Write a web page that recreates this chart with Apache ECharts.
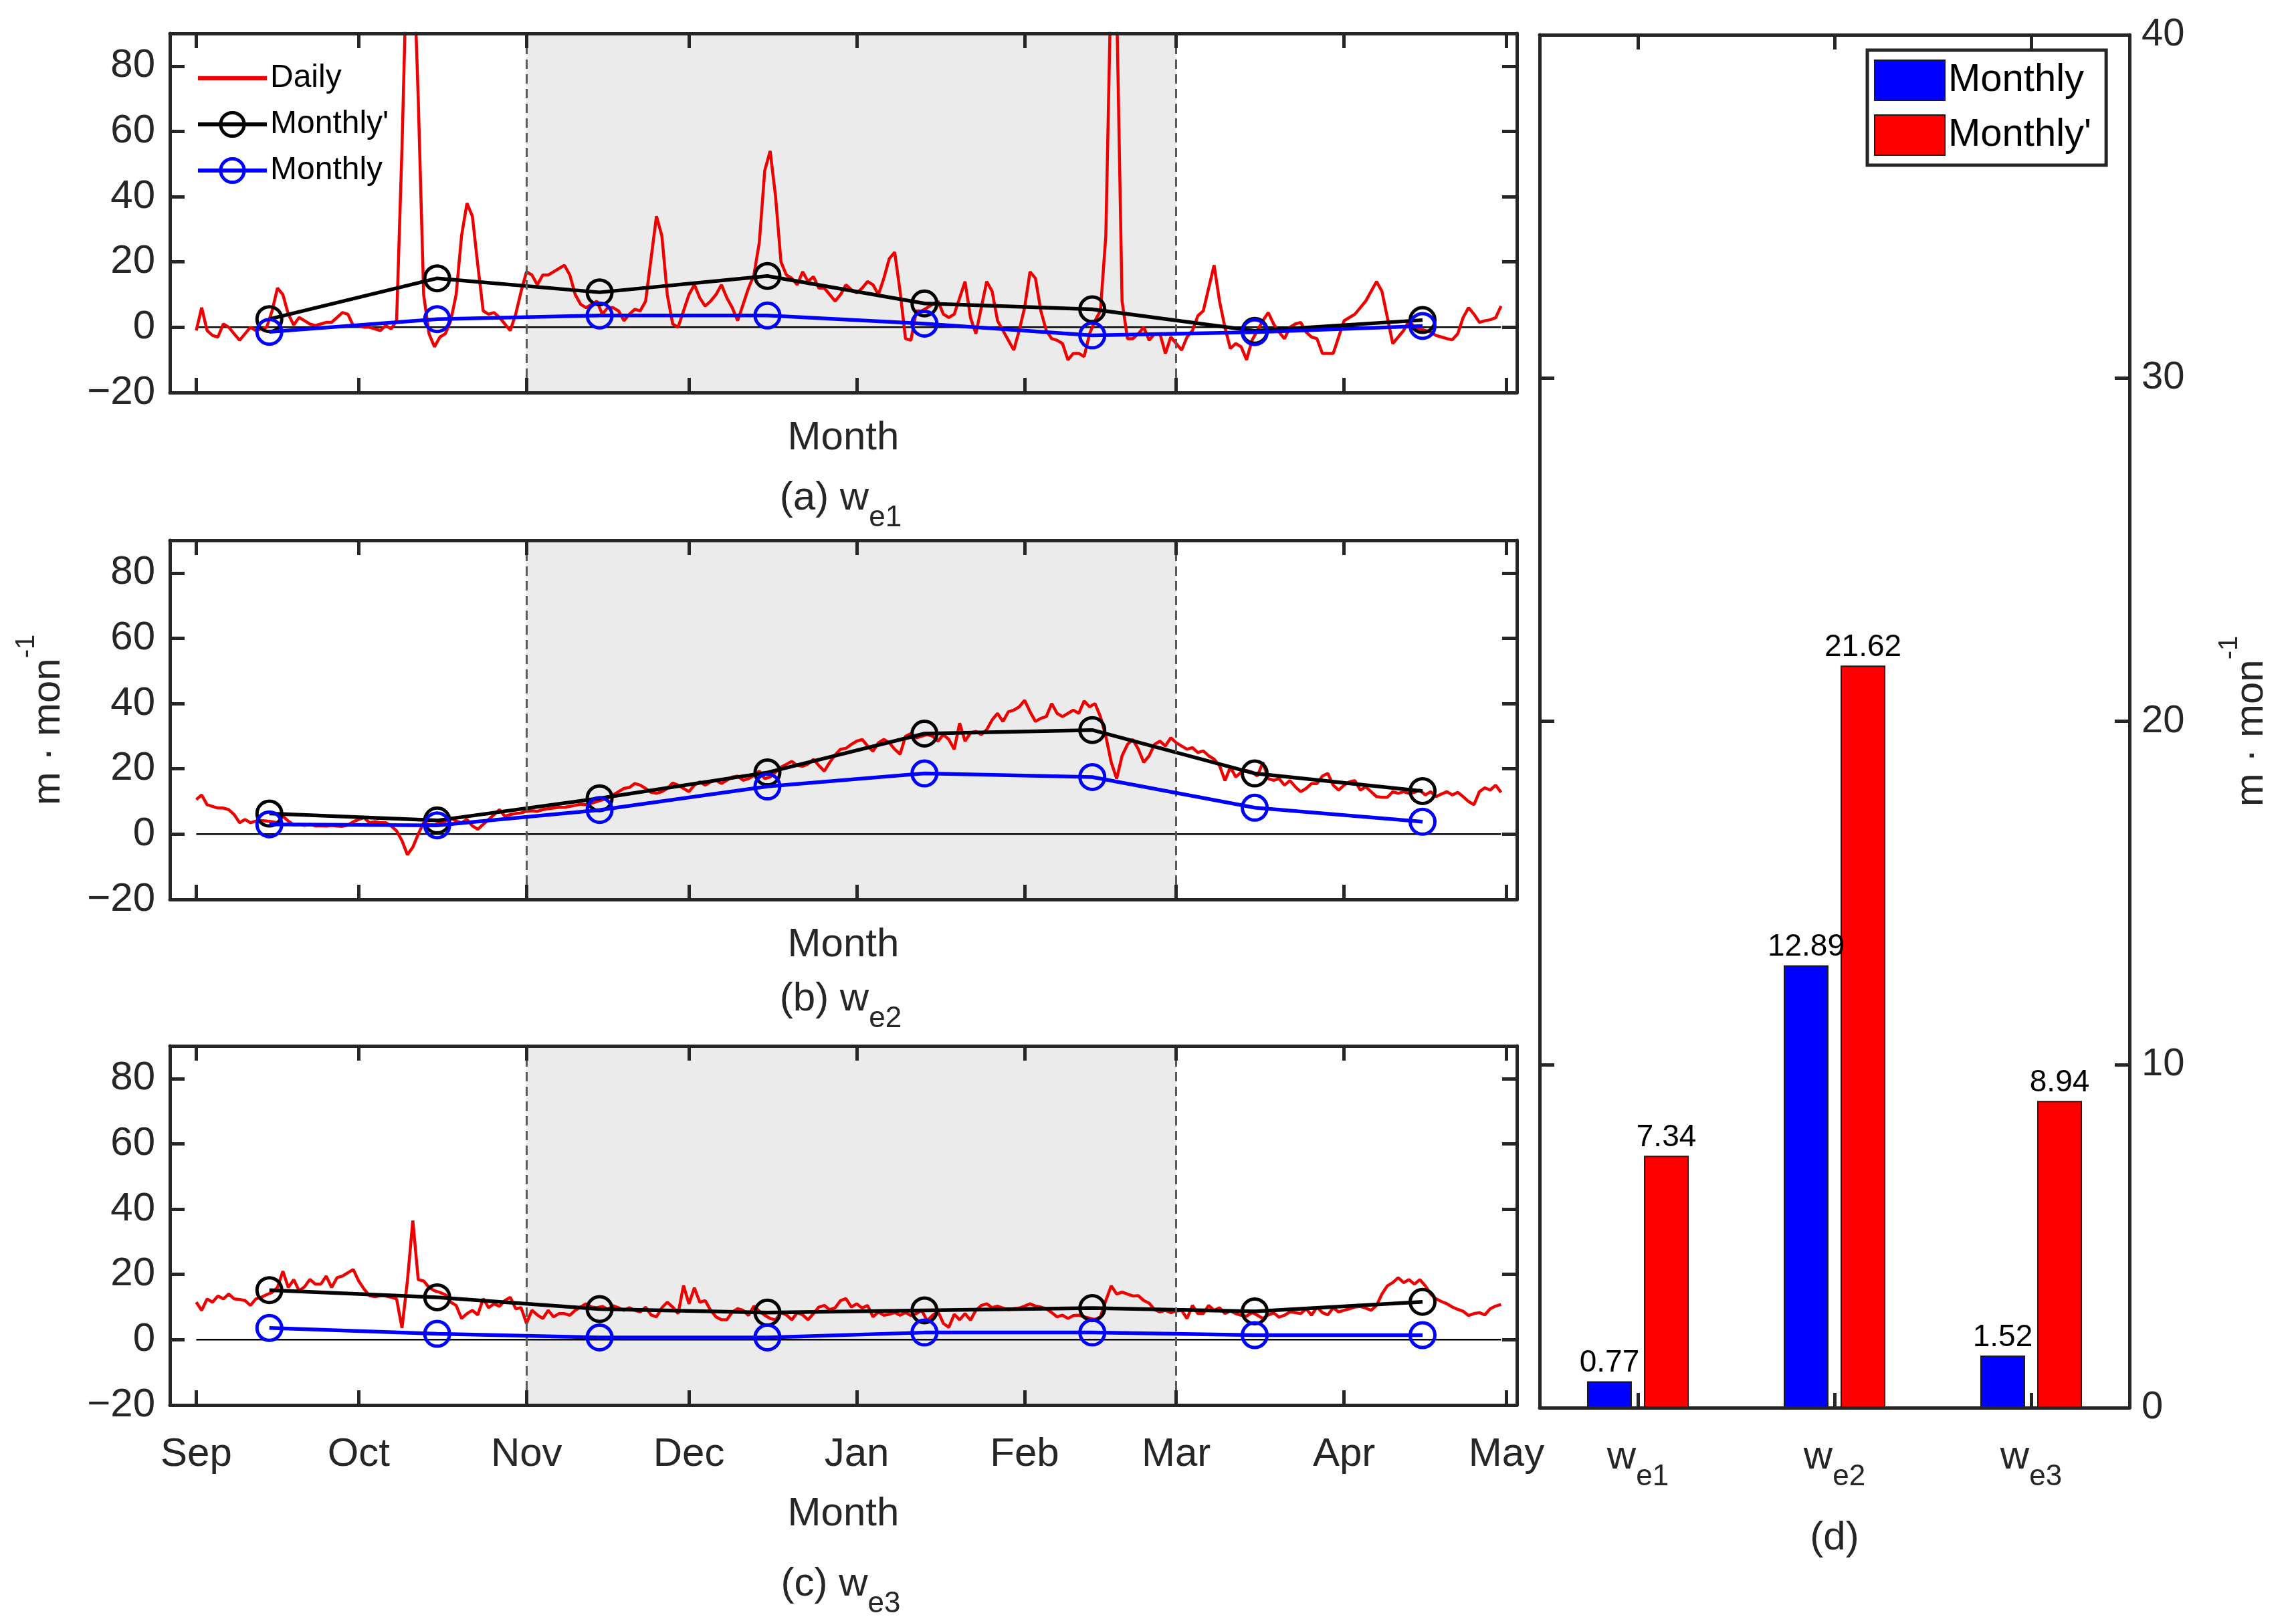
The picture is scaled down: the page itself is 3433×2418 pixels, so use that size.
<!DOCTYPE html>
<html>
<head>
<meta charset="utf-8">
<title>w_e1 / w_e2 / w_e3 daily and monthly</title>
<script src="https://cdn.jsdelivr.net/npm/echarts@6.0.0/dist/echarts.min.js"></script>
<style>
  html, body { margin: 0; padding: 0; background: #fff; }
  #main { width: 3433px; height: 2418px; }
</style>
</head>
<body>
<div id="main"></div>
<script>
// ---- data ----
const dailyStart = '2018-09-01';
const xRange = ['2018-08-27T03:00:00Z', '2019-05-02T22:00:00Z'];
const seasonRange = ['2018-11-01', '2019-03-01'];
const monthTicks = ['2018-09-01', '2018-10-01', '2018-11-01', '2018-12-01', '2019-01-01',
  '2019-02-01', '2019-03-01', '2019-04-01', '2019-05-01'];
const monthLabels = ['Sep', 'Oct', 'Nov', 'Dec', 'Jan', 'Feb', 'Mar', 'Apr', 'May'];
const monthCenters = ['2018-09-14', '2018-10-15', '2018-11-14', '2018-12-15',
  '2019-01-13', '2019-02-13', '2019-03-15', '2019-04-15'];

const dailyWe1 = [
  -1, 6, -1, -2.5, -3, 1, 0, -2, -4, -2,
  0, -1, -0.5, 0, 5, 12, 10, 4, 0.7, 3,
  2, 1, 0.5, 1, 1.5, 1.5, 3, 4.5, 4, 0.5,
  0.5, 0, 0, -0.5, -1, 0.5, -0.5, 2, 55, 120,
  120, 70, 10, -2, -6, -3, -2, 2, 10, 28,
  38, 34, 19, 5, 4, 4.5, 3, 1, -1, 4,
  11, 17, 16, 13, 16, 16, 17, 18, 19, 16,
  10, 7, 6, 7, 8, 4, 6, 6, 5, 2,
  4, 5.5, 5, 8, 21, 34, 28, 10, 1, 0,
  5, 10, 13, 9, 6.5, 8, 10, 13, 9, 6,
  2, 7, 12, 16, 26, 48, 54, 40, 20, 16,
  15, 13, 17, 14, 15.5, 12, 12, 10, 8, 10,
  13, 11.5, 10.5, 12, 14, 13, 10, 15, 21, 23,
  11, -3.5, -4, 5, 5, 6, 7, 8, 4, 3,
  4, 9, 14, 3, -2, 6, 14, 11, 2, -1,
  -4, -7, -1, 6, 17, 15, 5, -1, -3.5, -4,
  -5, -10, -8, -8, -9, -2, 2, 5, 28, 110,
  100, 8, -3.5, -3.5, -2, 0, -4, -2, -2, -8,
  -3, -5, -7, -3, -1, 3.5, 5, 12, 19, 8,
  0, -6.5, -5, -6, -10, -4, -1, 2, 4.5, 1,
  -1.5, -3.5, 0, 1, 1.5, -1.5, -3, -3.5, -8, -8,
  -8, -3, 2, 3, 4, 6, 8, 11, 14, 11,
  3, -5, -3, -1, 2, 0, -0.5, -1, -1.5, -2.5,
  -3, -3.5, -3.8, -2, 3, 6, 4, 1.5, 2, 2.3,
  2.9, 6.5
];
const dailyWe2 = [
  10.6, 12, 9, 8.5, 8, 8, 7.5, 6, 3.5, 4.5,
  3.5, 4, 4.2, 4, 3.8, 3.5, 5.5, 4, 2.8, 3,
  2.7, 3, 2.5, 2.6, 2.5, 2.7, 2.5, 2.4, 2.8, 3.8,
  4.5, 5, 3.5, 3.8, 3.5, 3.5, 2.5, 1, -2, -6.3,
  -4, 0, 3.5, 3, 2.8, 3.5, 4, 5, 4, 3.5,
  4.5, 2.5, 1.5, 3, 4.5, 6, 7.5, 5.5, 6, 6.3,
  6.5, 7, 7.2, 7, 7.5, 7.8, 8, 8.2, 8.2, 8.5,
  8.8, 9.2, 9, 9.5, 10, 10.5, 11, 12, 13, 14,
  14.3, 15.5, 15, 14, 12.8, 12.5, 13, 14, 15.7, 15,
  14, 13, 15, 16, 15, 16, 16.5, 15.5, 16.5, 17.5,
  17.8, 16.5, 17, 18, 19.3, 17, 17.5, 19, 20.5, 21.4,
  22.3, 21, 20.8, 21.5, 22.9, 21, 19.3, 22, 24.3, 26,
  26.3, 27.5, 28.5, 29, 27, 25.4, 28, 29, 28, 26,
  24.5, 30, 30.8, 29.5, 30, 30.5, 30, 28.5, 30.5, 29,
  26, 34, 28.5, 31, 31.5, 30.5, 32, 35, 37, 34.5,
  37.5, 38, 39, 41, 37.5, 34.5, 35.5, 36, 40, 37,
  36, 37, 38, 37, 40.8, 39, 40, 36, 30, 22,
  17, 24, 27.5, 29, 26, 22, 24, 27.5, 28.5, 27,
  29.5, 28, 27, 26, 26.5, 25, 25.5, 24, 23, 21,
  16.4, 20.5, 17.5, 19, 19.5, 19, 17.8, 22, 17, 16.5,
  17, 15, 16.4, 14.5, 13, 14, 15.5, 15.5, 17.8, 18.6,
  15, 13.5, 15, 16, 16.4, 13.5, 14.5, 13, 11.5, 11.3,
  11.3, 13, 12.5, 13, 12.5, 12.8, 13.5, 12, 13, 11.5,
  12.3, 13, 12, 12.8, 11.5, 10, 9, 13, 14.2, 13.5,
  15, 12.8
];
const dailyWe3 = [
  11.5, 9, 12.5, 11.5, 13.4, 12.5, 14, 12.5, 12.3, 12,
  10.5, 12.5, 13, 13.8, 14.5, 16, 21, 16, 18.4, 15,
  16.2, 18.5, 17, 17, 19.5, 16, 19, 19.5, 20.5, 21.5,
  18, 15.5, 13.5, 13.2, 13.5, 13.4, 13, 12.5, 3.6, 18,
  36.5, 18.4, 18, 16, 15, 14.5, 13.8, 11.5, 10.5, 6.5,
  8, 9, 7.6, 12.6, 9.8, 11, 10.2, 12, 13, 9.5,
  9.8, 5, 9, 7.6, 6.5, 9, 7, 8, 8, 7.5,
  9, 10, 11, 10, 9.8, 10.2, 9.3, 10.4, 9.8, 9,
  9.8, 9, 8.5, 10, 7.6, 7, 9.8, 11.5, 10, 8,
  16.6, 11, 15.9, 11.5, 12, 9, 7, 6.1, 6.1, 8.5,
  9.5, 9, 7.4, 10.3, 8.7, 7.5, 6.5, 6.1, 8.3, 7.6,
  6.1, 8.3, 7.6, 6.1, 8, 10, 10.5, 9.2, 9.8, 12,
  12.6, 10, 11, 9.7, 10.5, 7, 8.5, 7.5, 7.8, 8.3,
  7.5, 8.3, 7.4, 8, 9, 5.8, 7.5, 8.6, 5, 3.8,
  7.8, 6.1, 8, 6, 9, 10.5, 11, 9.8, 10.3, 9.7,
  9.2, 9.5, 9.7, 10.3, 11, 10.3, 10, 9.5, 8.3, 7,
  7.5, 6.5, 7.4, 7.5, 7, 6.6, 6.2, 7, 12, 16.5,
  14, 14.6, 14, 13.4, 13.5, 12, 11.2, 9.2, 8.5, 9,
  8.3, 8.8, 9, 6.5, 10.5, 8, 8, 10.5, 9, 9.8,
  8, 8.8, 8, 7.5, 7.2, 8.3, 7.5, 6.5, 7.6, 8.2,
  6.9, 7.5, 8.5, 8.3, 8, 9.5, 7.5, 10, 8.3, 7.6,
  9.8, 8.5, 9, 9.5, 10, 10.2, 9.7, 9, 10.5, 14,
  16.5, 17.5, 19, 17.5, 18.4, 17, 18.4, 16.5, 14, 12.5,
  11.7, 11, 10, 9.3, 8.7, 7.4, 8, 8.3, 7.6, 9.5,
  10.3, 10.8
];

const primeWe1 = [2.5, 15, 10.7, 15.7, 7.3, 5.5, -1.1, 2.2];
const monthlyWe1 = [-1.4, 2.5, 3.6, 3.6, 1.1, -2.5, -1.5, 0.4];
const primeWe2 = [6.3, 4.2, 11, 18.9, 30.8, 31.9, 18.6, 13.2];
const monthlyWe2 = [3, 2.7, 7.4, 14.6, 18.6, 17.5, 8.1, 3.8];
const primeWe3 = [15.2, 13, 9.4, 8.3, 9, 9.7, 8.7, 11.6];
const monthlyWe3 = [3.6, 1.8, 0.7, 0.7, 2.2, 2.2, 1.4, 1.4];

const barCats = ['we1', 'we2', 'we3'];
const barMonthly = [0.77, 12.89, 1.52];
const barPrime = [7.34, 21.62, 8.94];

const yTicks = [-20, 0, 20, 40, 60, 80];

// ---- helpers ----
const FONT = '"Liberation Sans", Arial, Helvetica, sans-serif';
const INK = '#262626';
const RED = '#ee0000';
const BLUE = '#0000ff';
const DAY = 86400000;
const toTime = s => Date.parse(s.length === 10 ? s + 'T00:00:00Z' : s);

const t0 = toTime(dailyStart);
const xMin = toTime(xRange[0]), xMax = toTime(xRange[1]);
const seasonT = seasonRange.map(toTime);
const monthTickT = monthTicks.map(toTime);
const centerT = monthCenters.map(s => toTime(s) + DAY / 2);

const panels = [
  { daily: dailyWe1, prime: primeWe1, monthly: monthlyWe1, cap: ['(a) w', 'e1'] },
  { daily: dailyWe2, prime: primeWe2, monthly: monthlyWe2, cap: ['(b) w', 'e2'] },
  { daily: dailyWe3, prime: primeWe3, monthly: monthlyWe3, cap: ['(c) w', 'e3'] }
];
const panelTop = [50, 808, 1564];
const captionY = [745, 1494, 2369];

const axisLine = { show: true, onZero: false, lineStyle: { color: INK, width: 5 } };
function ticks(extra) {
  return Object.assign({ show: true, inside: true, length: 22, lineStyle: { color: INK, width: 5 } }, extra || {});
}
const unitName = '{m|m \u00b7 mon}{s|-1}';
const unitStyle = {
  color: INK, fontFamily: FONT, fontSize: 60,
  rich: {
    m: { fontSize: 60, lineHeight: 104, color: INK, fontFamily: FONT },
    s: { fontSize: 40, lineHeight: 40, verticalAlign: 'top', color: INK, fontFamily: FONT }
  }
};

const grids = panelTop.map(top => ({ left: 254, top: top, width: 2014, height: 537, containLabel: false, outerBoundsMode: 'none' }));
grids.push({ left: 2302, top: 52, width: 882, height: 2053, containLabel: false, outerBoundsMode: 'none' });

const xAxes = [], yAxes = [], series = [];

panels.forEach((p, i) => {
  ['bottom', 'top'].forEach(pos => {
    const bottom = pos === 'bottom';
    // dates are kept as epoch milliseconds on a value axis; month ticks come from customValues
    xAxes.push({
      type: 'value', gridIndex: i, position: pos, min: xMin, max: xMax, z: 10,
      axisLine: axisLine,
      axisTick: ticks({ customValues: monthTickT }),
      axisLabel: {
        show: bottom && i === 2, customValues: monthTickT, margin: 44,
        fontSize: 60, color: INK, fontFamily: FONT,
        formatter: v => monthLabels[monthTickT.indexOf(v)] || ''
      },
      splitLine: { show: false },
      name: bottom ? 'Month' : '', nameLocation: 'middle', nameGap: i === 2 ? 133 : 38,
      nameMoveOverlap: false,
      nameTextStyle: { fontSize: 60, color: INK, fontFamily: FONT }
    });
  });
  ['left', 'right'].forEach(pos => {
    const left = pos === 'left';
    yAxes.push({
      type: 'value', gridIndex: i, position: pos, min: -20, max: 90, interval: 20, z: 10,
      axisLine: axisLine,
      axisTick: ticks(),
      axisLabel: {
        show: left, margin: 22, fontSize: 60, color: INK, fontFamily: FONT,
        formatter: v => yTicks.indexOf(v) >= 0 ? String(v).replace('-', '\u2212') : ''
      },
      splitLine: { show: false },
      name: left && i === 1 ? unitName : '', nameLocation: 'middle', nameRotate: 90, nameGap: 130,
      nameMoveOverlap: false,
      nameTextStyle: unitStyle
    });
  });

  const dates = p.daily.map((_, k) => t0 + k * DAY);
  const n = dates.length;
  const sfx = i === 0 ? '' : ' ' + (i + 1);
  series.push({
    type: 'line', name: 'zero' + i, xAxisIndex: 2 * i, yAxisIndex: 2 * i, z: 2, silent: true,
    symbol: 'none', lineStyle: { color: '#000', width: 2.5 },
    data: [[dates[0], 0], [dates[n - 1], 0]],
    markArea: { silent: true, itemStyle: { color: '#ebebeb' }, data: [[{ xAxis: seasonT[0] }, { xAxis: seasonT[1] }]] },
    markLine: {
      silent: true, symbol: ['none', 'none'], label: { show: false },
      lineStyle: { color: '#5a5a5a', width: 3, type: [14, 8] },
      data: [{ xAxis: seasonT[0] }, { xAxis: seasonT[1] }]
    }
  });
  series.push({
    type: 'line', name: 'Daily' + sfx, xAxisIndex: 2 * i, yAxisIndex: 2 * i, z: 3,
    symbol: 'none', lineStyle: { color: RED, width: 4.5 }, itemStyle: { color: RED },
    data: p.daily.map((v, k) => [dates[k], v])
  });
  series.push({
    type: 'line', name: "Monthly'" + sfx, xAxisIndex: 2 * i, yAxisIndex: 2 * i, z: 4,
    symbol: 'circle', symbolSize: 37,
    lineStyle: { color: '#000', width: 5.5 },
    itemStyle: { color: 'rgba(255,255,255,0)', borderColor: '#000', borderWidth: 5 },
    data: p.prime.map((v, k) => [centerT[k], v])
  });
  series.push({
    type: 'line', name: 'Monthly' + sfx, xAxisIndex: 2 * i, yAxisIndex: 2 * i, z: 5,
    symbol: 'circle', symbolSize: 37,
    lineStyle: { color: BLUE, width: 5.5 },
    itemStyle: { color: 'rgba(255,255,255,0)', borderColor: BLUE, borderWidth: 5 },
    data: p.monthly.map((v, k) => [centerT[k], v])
  });
});

// panel (d)
['bottom', 'top'].forEach(pos => {
  const bottom = pos === 'bottom';
  xAxes.push({
    type: 'category', gridIndex: 3, position: pos, data: barCats, z: 10,
    axisLine: axisLine,
    axisTick: ticks({ alignWithLabel: true }),
    axisLabel: {
      show: bottom, margin: 22, color: INK,
      formatter: v => '{w|w}{s|' + v.slice(1) + '}',
      rich: {
        w: { fontSize: 60, lineHeight: 104, color: INK, fontFamily: FONT },
        s: { fontSize: 44, lineHeight: 44, verticalAlign: 'bottom', color: INK, fontFamily: FONT }
      }
    },
    splitLine: { show: false },
    name: bottom ? '(d)' : '', nameLocation: 'middle', nameGap: 165, nameMoveOverlap: false,
    nameTextStyle: { fontSize: 60, color: INK, fontFamily: FONT }
  });
});
['right', 'left'].forEach(pos => {
  const right = pos === 'right';
  yAxes.push({
    type: 'value', gridIndex: 3, position: pos, min: 0, max: 40, interval: 10, z: 10,
    axisLine: axisLine,
    axisTick: ticks(),
    axisLabel: { show: right, margin: 18, fontSize: 58, color: INK, fontFamily: FONT },
    splitLine: { show: false },
    name: right ? unitName : '', nameLocation: 'middle', nameRotate: 90, nameGap: 130,
    nameMoveOverlap: false,
    nameTextStyle: unitStyle
  });
});

const barLabel = {
  show: true, position: 'top', distance: 4, fontSize: 46, color: '#000', fontFamily: FONT,
  formatter: p => p.value.toFixed(2)
};
series.push({
  type: 'bar', name: 'bar-Monthly', xAxisIndex: 6, yAxisIndex: 6, z: 3,
  barWidth: 67, barGap: '27%',
  itemStyle: { color: BLUE, borderColor: '#1a1a1a', borderWidth: 2 },
  label: barLabel, data: barMonthly
});
series.push({
  type: 'bar', name: "bar-Monthly'", xAxisIndex: 6, yAxisIndex: 6, z: 3,
  barWidth: 67, barGap: '27%',
  itemStyle: { color: '#ff0000', borderColor: '#1a1a1a', borderWidth: 2 },
  label: barLabel, data: barPrime
});

const hollow = c => ({ color: 'rgba(255,255,255,0)', borderColor: c, borderWidth: 5 });

const chart = echarts.init(document.getElementById('main'));
chart.setOption({
  animation: false,
  backgroundColor: '#fff',
  textStyle: { fontFamily: FONT },
  tooltip: { show: false },
  grid: grids,
  xAxis: xAxes,
  yAxis: yAxes,
  legend: [
    {
      left: 293, top: 93, orient: 'vertical', padding: 0, selectedMode: false,
      itemWidth: 103, itemHeight: 44, itemGap: 21,
      lineStyle: { width: 6 },
      data: [
        { name: 'Daily', icon: 'path://M0,0H100V6.5H0Z', itemStyle: { color: RED } },
        { name: "Monthly'", itemStyle: hollow('#000'), lineStyle: { color: '#000', width: 6 } },
        { name: 'Monthly', itemStyle: hollow(BLUE), lineStyle: { color: BLUE, width: 6 } }
      ],
      textStyle: { fontSize: 48, color: '#000', fontFamily: FONT }
    },
    {
      left: 2792, top: 75, orient: 'vertical', padding: [14, 22, 14, 10], selectedMode: false,
      itemWidth: 105, itemHeight: 60, itemGap: 20, icon: 'rect',
      backgroundColor: '#fff', borderColor: INK, borderWidth: 5,
      data: ['bar-Monthly', "bar-Monthly'"],
      formatter: n => n.replace('bar-', ''),
      textStyle: { fontSize: 58, color: '#000', fontFamily: FONT }
    }
  ],
  graphic: panels.map((p, i) => ({
    type: 'text', x: 1257, y: captionY[i], silent: true,
    style: {
      text: '{n|' + p.cap[0] + '}{s|' + p.cap[1] + '}',
      align: 'center', verticalAlign: 'middle', fill: INK,
      rich: {
        n: { fontSize: 60, lineHeight: 104, fontFamily: FONT, fill: INK },
        s: { fontSize: 44, lineHeight: 44, verticalAlign: 'bottom', fontFamily: FONT, fill: INK }
      }
    }
  })),
  series: series
});

window.onresize = function () {
  chart.resize();
};
</script>
</body>
</html>
